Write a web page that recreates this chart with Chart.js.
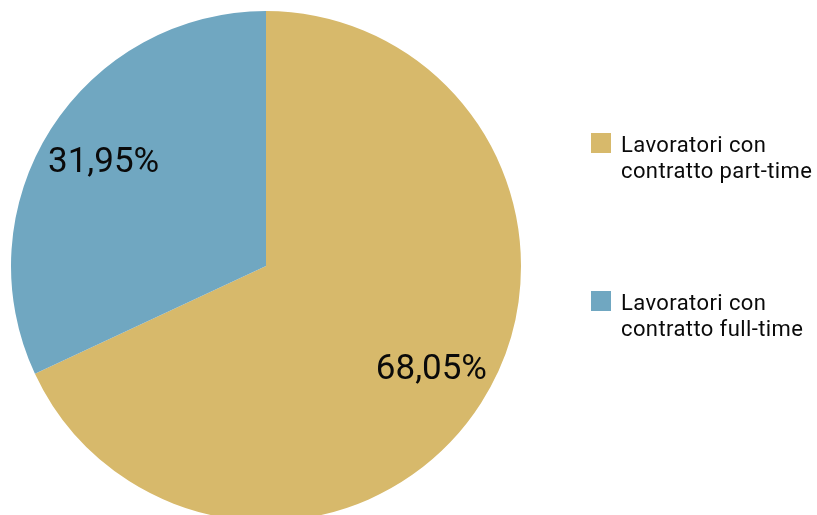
<!DOCTYPE html>
<html>
<head>
<meta charset="utf-8">
<script src="https://cdn.jsdelivr.net/npm/chart.js@4/dist/chart.umd.min.js"></script>
<style>
html,body{margin:0;padding:0;background:#fff;overflow:hidden;width:817px;height:515px;}
canvas{display:block;}
</style>
</head>
<body>
<canvas id="c" width="817" height="532"></canvas>
<script>
const categories = [["Lavoratori con", "contratto part-time"], ["Lavoratori con", "contratto full-time"]];
const shares = [68.05, 31.95];
const colors = ["#D7B96B", "#70A7C1"];

const FONT = "Roboto, 'DejaVu Sans', sans-serif";

const labelPlugin = {
  id: 'sliceLabels',
  afterDatasetsDraw(chart) {
    const ctx = chart.ctx;
    const meta = chart.getDatasetMeta(0);
    ctx.save();
    ctx.fillStyle = '#0a0a0a';
    ctx.font = '35px ' + FONT;
    ctx.textAlign = 'center';
    ctx.textBaseline = 'middle';
    meta.data.forEach((arc, i) => {
      const p = arc.getProps(['x','y','startAngle','endAngle','outerRadius'], true);
      const mid = (p.startAngle + p.endAngle) / 2;
      const r = p.outerRadius * 0.755;
      const txt = shares[i].toFixed(2).replace('.', ',') + '%';
      ctx.fillText(txt, p.x + Math.cos(mid) * r + (i === 0 ? 3 : 0), p.y + Math.sin(mid) * r + 1);
    });
    ctx.restore();
  }
};

const legendPlugin = {
  id: 'sideLegend',
  afterDraw(chart) {
    const ctx = chart.ctx;
    ctx.save();
    ctx.font = '22px ' + FONT;
    if ('letterSpacing' in ctx) ctx.letterSpacing = '0.4px';
    ctx.textBaseline = 'alphabetic';
    ctx.textAlign = 'left';
    const ds = chart.data.datasets[0];
    chart.data.labels.forEach((lines, i) => {
      const top = 133 + i * 158;
      ctx.fillStyle = ds.backgroundColor[i];
      ctx.fillRect(591, top, 20, 20);
      ctx.fillStyle = '#0a0a0a';
      lines.forEach((ln, j) => {
        ctx.fillText(ln, 621, top + 19 + j * 25.5);
      });
    });
    ctx.restore();
  }
};

new Chart(document.getElementById('c'), {
  type: 'pie',
  data: {
    labels: categories,
    datasets: [{
      data: shares,
      backgroundColor: colors,
      borderWidth: 0,
      hoverOffset: 0
    }]
  },
  options: {
    responsive: false,
    animation: false,
    devicePixelRatio: 1,
    layout: { padding: { left: 11, top: 11, right: 296, bottom: 11 } },
    plugins: {
      legend: { display: false },
      tooltip: { enabled: false }
    },
    events: []
  },
  plugins: [labelPlugin, legendPlugin]
});
</script>
</body>
</html>
